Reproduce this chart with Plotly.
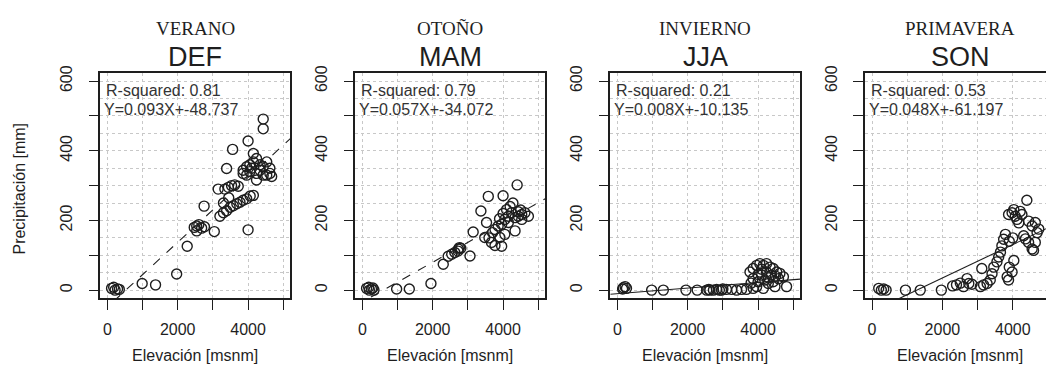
import plotly.graph_objects as go

# ---- data: elevation (m a.s.l.) vs seasonal precipitation (mm) ----
seasons = ["VERANO", "OTOÑO", "INVIERNO", "PRIMAVERA"]
codes = ["DEF", "MAM", "JJA", "SON"]

elev_def = [120, 220, 290, 340, 180, 990, 1370, 1970, 2270, 2470, 2540, 2600, 2680, 2760, 2540,
            3040, 2750, 3150, 3390, 3560, 4000, 4430, 4430, 4000,
            3200, 3300, 3390, 3490, 3580, 3680, 3770, 3860, 3960, 4060, 4150, 3300, 3450,
            3340, 3440, 3530, 3620, 3720,
            3860, 3960, 4050, 4150, 4240, 4340, 4430, 4530, 4620, 4670, 4430, 4150, 4240,
            4100, 3960, 3860, 4240, 4530, 4050, 4340, 4620]
prcp_def = [5, 0, 3, 2, 8, 19, 15, 46, 126, 180, 184, 188, 178, 182, 170,
            168, 241, 290, 349, 404, 428, 491, 463, 173,
            212, 222, 228, 238, 242, 248, 252, 258, 262, 270, 272, 250, 265,
            290, 295, 300, 302, 298,
            344, 354, 360, 368, 335, 344, 354, 368, 335, 326, 330, 392, 378,
            350, 330, 335, 316, 330, 340, 360, 350]

elev_mam = [120, 200, 260, 330, 180, 300, 975, 1335, 1950, 2300, 2440, 2540, 2630, 2730, 2760,
            2800, 2720, 3060, 3150, 3370, 3580, 4000, 4400, 3530, 3770, 3960, 3480, 3670,
            3770, 3860, 3960, 4050, 4150, 4240, 4340, 4430, 4530, 4620, 4720, 4200, 4100,
            4340, 4050, 3910, 4150, 4530, 3700, 3600, 4430, 4500, 3900, 4000, 4280]
prcp_mam = [5, 0, 3, 0, 8, 6, 3, 3, 19, 74, 97, 103, 108, 118, 122,
            120, 112, 98, 167, 227, 269, 271, 302, 194, 128, 126, 151, 137,
            174, 184, 189, 203, 212, 222, 208, 212, 217, 222, 212, 240, 231,
            170, 160, 151, 194, 203, 165, 150, 225, 230, 205, 220, 250]

elev_jja = [170, 220, 260, 150, 975, 1307, 1950, 2270, 2540, 2630, 2730, 2820, 2960, 3100,
            3250, 3390, 3530, 3670, 3860, 2600, 2900, 3000,
            3770, 3860, 3960, 4050, 4150, 4240, 4340, 4430, 4530, 4620, 4720, 3860, 4000,
            4100, 4190, 4290, 4430, 4580, 4240, 4380, 3960, 4150, 4480, 4810, 4000, 4100,
            3800, 4300, 4500]
prcp_jja = [7, 10, 5, 3, 0, 0, 0, 0, 0, 0, 0, 2, 0, 2,
            2, 0, 2, 2, 5, 2, 0, 3,
            52, 62, 71, 76, 71, 76, 66, 62, 52, 48, 38, 33, 24,
            43, 29, 19, 24, 33, 52, 43, 10, 5, 10, 10, 45, 60,
            20, 35, 40]

elev_son = [190, 265, 330, 400, 950, 1370, 1970, 2290, 2400, 2510, 2600, 2700, 2750, 2840,
            3080, 3170, 3270, 3360, 3120, 3410, 3460, 3550, 3600, 3650, 3690, 3740, 3790,
            3840, 3880, 3980, 4030, 3900, 3880, 3980, 4070, 4120, 4170, 4210, 4260, 4030,
            4400, 4310, 4360, 4450, 4550, 4590, 4640, 4690, 4740, 4550, 4450, 4640, 4000, 3900]
prcp_son = [5, 0, 3, 0, 0, 0, 0, 12, 15, 20, 10, 33, 19, 17,
            10, 15, 19, 29, 62, 47, 66, 81, 95, 109, 127, 146, 160,
            38, 29, 52, 85, 66, 217, 222, 212, 203, 193, 226, 217, 231,
            258, 156, 147, 137, 118, 114, 137, 165, 175, 184, 198, 194, 150, 140]

elevations = [elev_def, elev_mam, elev_jja, elev_son]
precips = [prcp_def, prcp_mam, prcp_jja, prcp_son]

# linear fits printed in each panel: R², slope and intercept
r_squared = ["0.81", "0.79", "0.21", "0.53"]
slopes = [0.093, 0.057, 0.008, 0.048]
intercepts = [-48.737, -34.072, -10.135, -61.197]
line_dash = ["dash", "dash", "solid", "solid"]

x_ticks = [0, 1000, 2000, 3000, 4000, 5000]
x_ticktext = ["0", "", "2000", "", "4000", ""]
y_ticks = [0, 100, 200, 300, 400, 500, 600]
y_ticktext = ["0", "", "200", "", "400", "", "600"]

# ---- layout geometry (pixels) ----
W, H = 1046, 375
box_left = [100.3, 355.3, 610.3, 865.0]
box_w = 190.0
box_top, box_bot = 67.0, 297.0
x_lo, x_hi = -200.0, 5200.0
y_lo, y_hi = -24.0, 624.0
px_per_x = box_w / (x_hi - x_lo)

sans = "Liberation Sans, Arial, sans-serif"
serif = "Liberation Serif, Times New Roman, serif"
ink = "#1e1e1e"
grid_col = "#c8c8c8"

fig = go.Figure()
annotations = []

for i in range(4):
    n = "" if i == 0 else str(i + 1)
    left = box_left[i]
    right = min(left + box_w, W)
    xr_hi = x_lo + (right - left) / px_per_x

    fig.add_trace(go.Scatter(
        x=elevations[i], y=precips[i], mode="markers",
        marker=dict(symbol="circle-open", size=10, color=ink, line=dict(width=1.4)),
        xaxis="x" + n, yaxis="y" + n, showlegend=False, hoverinfo="skip"))

    fit_x = [x_lo, x_hi]
    fit_y = [slopes[i] * v + intercepts[i] for v in fit_x]
    fig.add_trace(go.Scatter(
        x=fit_x, y=fit_y, mode="lines",
        line=dict(color=ink, width=1.1, dash=line_dash[i]),
        xaxis="x" + n, yaxis="y" + n, showlegend=False, hoverinfo="skip"))

    fig.layout["xaxis" + n] = dict(
        domain=[left / W, right / W], range=[x_lo, xr_hi], anchor="y" + n,
        tickmode="array", tickvals=x_ticks, ticktext=x_ticktext,
        ticks="outside", ticklen=10, tickwidth=1.4, tickcolor=ink,
        ticklabelstandoff=6,
        tickfont=dict(family=sans, size=16, color=ink),
        showline=True, linecolor=ink, linewidth=1.6, mirror=True,
        showgrid=True, gridcolor=grid_col, griddash="dot", gridwidth=1,
        zeroline=False, fixedrange=True)
    fig.layout["yaxis" + n] = dict(
        domain=[1 - box_bot / H, 1 - box_top / H], range=[y_lo, y_hi], anchor="x" + n,
        tickmode="array", tickvals=y_ticks, ticktext=y_ticktext,
        ticks="outside", ticklen=10, tickwidth=1.4, tickcolor=ink,
        tickangle=-90, ticklabelstandoff=10,
        tickfont=dict(family=sans, size=16, color=ink),
        showline=True, linecolor=ink, linewidth=1.6, mirror=(i < 3),
        showgrid=True, gridcolor=grid_col, griddash="dot", gridwidth=1,
        minor=dict(tickvals=[50, 150, 250, 350, 450, 550], showgrid=True,
                   gridcolor=grid_col, griddash="dot", gridwidth=1, ticks=""),
        zeroline=False, fixedrange=True)

    cx = (left + box_w / 2) / W
    eq_text = "Y=%.3fX+%.3f" % (slopes[i], intercepts[i])
    annotations += [
        dict(text=seasons[i], x=cx, y=1 - 22 / H, xref="paper", yref="paper",
             showarrow=False, xanchor="center", yanchor="middle",
             font=dict(family=serif, size=19, color=ink)),
        dict(text=codes[i], x=cx, y=1 - 51 / H, xref="paper", yref="paper",
             showarrow=False, xanchor="center", yanchor="middle",
             font=dict(family=sans, size=27, color=ink)),
        dict(text="R-squared: " + r_squared[i], x=(left + 4) / W, y=1 - 85 / H,
             xref="paper", yref="paper", showarrow=False, xanchor="left", yanchor="middle",
             font=dict(family=sans, size=16, color="#333333")),
        dict(text=eq_text, x=(left + 2) / W, y=1 - 104 / H,
             xref="paper", yref="paper", showarrow=False, xanchor="left", yanchor="middle",
             font=dict(family=sans, size=16, color="#333333")),
        dict(text="Elevación [msnm]", x=cx, y=1 - 355 / H, xref="paper", yref="paper",
             showarrow=False, xanchor="center", yanchor="middle",
             font=dict(family=sans, size=16, color=ink)),
    ]

annotations.append(dict(
    text="Precipitación [mm]", x=20 / W, y=1 - 185 / H, xref="paper", yref="paper",
    showarrow=False, xanchor="center", yanchor="middle", textangle=-90,
    font=dict(family=sans, size=16, color=ink)))

fig.update_layout(
    width=W, height=H, margin=dict(l=0, r=0, t=0, b=0),
    paper_bgcolor="white", plot_bgcolor="white",
    annotations=annotations, showlegend=False)

fig.write_html("out.html")
